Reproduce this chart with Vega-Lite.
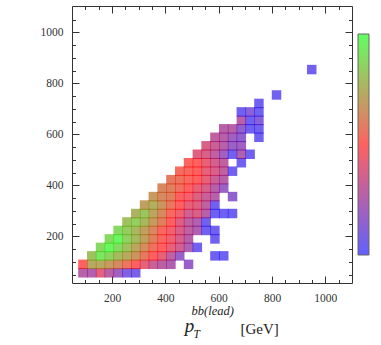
{
  "$schema": "https://vega.github.io/schema/vega-lite/v6.json",
  "width": 280,
  "height": 277,
  "autosize": {"type": "none"},
  "padding": {"left": 72, "top": 6, "right": 29, "bottom": 62},
  "background": "white",
  "config": {
    "view": {"stroke": "#333", "strokeWidth": 1},
    "axis": {
      "labelFont": "Liberation Serif",
      "labelFontSize": 11.5,
      "labelColor": "#333",
      "tickColor": "#333",
      "tickWidth": 1,
      "domain": false,
      "grid": false,
      "titleFont": "Liberation Serif",
      "titleFontWeight": "normal",
      "titleColor": "#222"
    }
  },
  "data": {"values": [
    {"x":91,"y":57,"v":0.27},{"x":124,"y":57,"v":0.25},{"x":157,"y":57,"v":0.41},{"x":190,"y":57,"v":0.28},{"x":223,"y":57,"v":0.2},{"x":256,"y":57,"v":0.1},{"x":289,"y":57,"v":0.08},
    {"x":91,"y":90.2,"v":0.5},{"x":124,"y":90.2,"v":0.73},{"x":157,"y":90.2,"v":0.73},{"x":190,"y":90.2,"v":0.68},{"x":223,"y":90.2,"v":0.63},{"x":256,"y":90.2,"v":0.57},{"x":289,"y":90.2,"v":0.5},{"x":322,"y":90.2,"v":0.42},{"x":355,"y":90.2,"v":0.33},{"x":388,"y":90.2,"v":0.28},{"x":421,"y":90.2,"v":0.25},{"x":487,"y":90.2,"v":0.17},
    {"x":124,"y":123.4,"v":0.8},{"x":157,"y":123.4,"v":0.92},{"x":190,"y":123.4,"v":0.86},{"x":223,"y":123.4,"v":0.78},{"x":256,"y":123.4,"v":0.73},{"x":289,"y":123.4,"v":0.66},{"x":322,"y":123.4,"v":0.58},{"x":355,"y":123.4,"v":0.5},{"x":388,"y":123.4,"v":0.43},{"x":421,"y":123.4,"v":0.3},{"x":454,"y":123.4,"v":0.17},{"x":586,"y":123.4,"v":0.04},{"x":619,"y":123.4,"v":0.04},
    {"x":157,"y":156.6,"v":0.88},{"x":190,"y":156.6,"v":0.97},{"x":223,"y":156.6,"v":0.88},{"x":256,"y":156.6,"v":0.8},{"x":289,"y":156.6,"v":0.72},{"x":322,"y":156.6,"v":0.64},{"x":355,"y":156.6,"v":0.55},{"x":388,"y":156.6,"v":0.5},{"x":421,"y":156.6,"v":0.43},{"x":454,"y":156.6,"v":0.35},{"x":487,"y":156.6,"v":0.25},{"x":520,"y":156.6,"v":0.05},
    {"x":190,"y":189.8,"v":0.88},{"x":223,"y":189.8,"v":0.97},{"x":256,"y":189.8,"v":0.85},{"x":289,"y":189.8,"v":0.78},{"x":322,"y":189.8,"v":0.7},{"x":355,"y":189.8,"v":0.6},{"x":388,"y":189.8,"v":0.52},{"x":421,"y":189.8,"v":0.45},{"x":454,"y":189.8,"v":0.37},{"x":487,"y":189.8,"v":0.27},{"x":586,"y":189.8,"v":0.05},
    {"x":223,"y":223,"v":0.88},{"x":256,"y":223,"v":0.84},{"x":289,"y":223,"v":0.77},{"x":322,"y":223,"v":0.7},{"x":355,"y":223,"v":0.62},{"x":388,"y":223,"v":0.52},{"x":421,"y":223,"v":0.46},{"x":454,"y":223,"v":0.38},{"x":487,"y":223,"v":0.3},{"x":520,"y":223,"v":0.25},{"x":553,"y":223,"v":0.05},{"x":586,"y":223,"v":0.05},
    {"x":256,"y":256.2,"v":0.8},{"x":289,"y":256.2,"v":0.85},{"x":322,"y":256.2,"v":0.77},{"x":355,"y":256.2,"v":0.68},{"x":388,"y":256.2,"v":0.6},{"x":421,"y":256.2,"v":0.5},{"x":454,"y":256.2,"v":0.4},{"x":487,"y":256.2,"v":0.3},{"x":520,"y":256.2,"v":0.25},{"x":553,"y":256.2,"v":0.05},
    {"x":289,"y":289.4,"v":0.76},{"x":322,"y":289.4,"v":0.82},{"x":355,"y":289.4,"v":0.72},{"x":388,"y":289.4,"v":0.63},{"x":421,"y":289.4,"v":0.53},{"x":454,"y":289.4,"v":0.45},{"x":487,"y":289.4,"v":0.35},{"x":520,"y":289.4,"v":0.38},{"x":553,"y":289.4,"v":0.27},{"x":586,"y":289.4,"v":0.04},{"x":619,"y":289.4,"v":0.04},{"x":652,"y":289.4,"v":0.04},
    {"x":322,"y":322.6,"v":0.7},{"x":355,"y":322.6,"v":0.75},{"x":388,"y":322.6,"v":0.66},{"x":421,"y":322.6,"v":0.57},{"x":454,"y":322.6,"v":0.5},{"x":487,"y":322.6,"v":0.42},{"x":520,"y":322.6,"v":0.4},{"x":553,"y":322.6,"v":0.3},{"x":586,"y":322.6,"v":0.05},
    {"x":355,"y":355.8,"v":0.68},{"x":388,"y":355.8,"v":0.63},{"x":421,"y":355.8,"v":0.6},{"x":454,"y":355.8,"v":0.5},{"x":487,"y":355.8,"v":0.46},{"x":520,"y":355.8,"v":0.4},{"x":553,"y":355.8,"v":0.33},{"x":586,"y":355.8,"v":0.27},{"x":652,"y":355.8,"v":0.15},
    {"x":388,"y":389,"v":0.62},{"x":421,"y":389,"v":0.6},{"x":454,"y":389,"v":0.55},{"x":487,"y":389,"v":0.5},{"x":520,"y":389,"v":0.43},{"x":553,"y":389,"v":0.37},{"x":586,"y":389,"v":0.27},{"x":619,"y":389,"v":0.18},
    {"x":421,"y":422.2,"v":0.58},{"x":454,"y":422.2,"v":0.56},{"x":487,"y":422.2,"v":0.53},{"x":520,"y":422.2,"v":0.5},{"x":553,"y":422.2,"v":0.42},{"x":586,"y":422.2,"v":0.33},{"x":619,"y":422.2,"v":0.27},
    {"x":454,"y":455.4,"v":0.54},{"x":487,"y":455.4,"v":0.52},{"x":520,"y":455.4,"v":0.5},{"x":553,"y":455.4,"v":0.42},{"x":586,"y":455.4,"v":0.38},{"x":619,"y":455.4,"v":0.3},{"x":652,"y":455.4,"v":0.05},
    {"x":487,"y":488.6,"v":0.52},{"x":520,"y":488.6,"v":0.5},{"x":553,"y":488.6,"v":0.43},{"x":586,"y":488.6,"v":0.36},{"x":619,"y":488.6,"v":0.3},{"x":685,"y":488.6,"v":0.05},
    {"x":520,"y":521.8,"v":0.4},{"x":553,"y":521.8,"v":0.38},{"x":586,"y":521.8,"v":0.3},{"x":619,"y":521.8,"v":0.2},{"x":652,"y":521.8,"v":0.05},{"x":685,"y":521.8,"v":0.25},{"x":718,"y":521.8,"v":0.05},
    {"x":553,"y":555,"v":0.38},{"x":586,"y":555,"v":0.33},{"x":619,"y":555,"v":0.27},{"x":652,"y":555,"v":0.18},{"x":685,"y":555,"v":0.2},
    {"x":586,"y":588.2,"v":0.3},{"x":619,"y":588.2,"v":0.27},{"x":652,"y":588.2,"v":0.2},{"x":685,"y":588.2,"v":0.15},{"x":751,"y":588.2,"v":0.05},
    {"x":619,"y":621.4,"v":0.27},{"x":652,"y":621.4,"v":0.27},{"x":685,"y":621.4,"v":0.15},{"x":718,"y":621.4,"v":0.05},{"x":751,"y":621.4,"v":0.05},
    {"x":685,"y":654.6,"v":0.27},{"x":718,"y":654.6,"v":0.05},{"x":751,"y":654.6,"v":0.12},
    {"x":685,"y":687.8,"v":0.05},{"x":718,"y":687.8,"v":0.13},{"x":751,"y":687.8,"v":0.05},
    {"x":751,"y":721,"v":0.05},
    {"x":817,"y":754.2,"v":0.05},
    {"x":949,"y":853.8,"v":0.05}
  ]},
  "layer": [
    {
      "mark": {"type": "square", "size": 90, "filled": true, "opacity": 1, "strokeWidth": 0},
      "encoding": {
        "x": {"field": "x", "type": "quantitative",
          "scale": {"domain": [50, 1100], "nice": false, "zero": false},
          "axis": {"orient": "bottom",
            "values": [100,150,200,250,300,350,400,450,500,550,600,650,700,750,800,850,900,950,1000,1050],
            "format": "d",
            "labelExpr": "datum.value % 200 === 0 ? datum.label : ''",
            "tickSize": {"condition": {"test": "datum.value % 200 === 0", "value": -7}, "value": -3.5},
            "labelPadding": 16,
            "title": "p",
            "titleFontStyle": "italic",
            "titleFontSize": 19,
            "titleX": 117, "titleY": 48,
            "titleAlign": "center", "titleBaseline": "alphabetic"}},
        "y": {"field": "y", "type": "quantitative",
          "scale": {"domain": [17, 1103], "nice": false, "zero": false},
          "axis": {"orient": "left",
            "values": [50,100,150,200,250,300,350,400,450,500,550,600,650,700,750,800,850,900,950,1000,1050],
            "format": "d",
            "labelExpr": "datum.value % 200 === 0 ? datum.label : ''",
            "tickSize": {"condition": {"test": "datum.value % 200 === 0", "value": -7}, "value": -3.5},
            "labelPadding": 16,
            "title": "T",
            "titleFontStyle": "italic",
            "titleFontSize": 11.5,
            "titleAngle": 0,
            "titleX": 121, "titleY": 331,
            "titleAlign": "left", "titleBaseline": "alphabetic"}},
        "color": {"field": "v", "type": "quantitative",
          "scale": {"domain": [0, 0.5, 1], "range": ["rgba(0,0,255,0.62)", "rgba(255,0,0,0.62)", "rgba(0,255,0,0.62)"], "interpolate": "rgb"},
          "legend": {"orient": "none", "legendX": 286, "legendY": 28, "direction": "vertical",
            "gradientLength": 221, "gradientThickness": 11, "title": null,
            "labelExpr": "''", "labelFontSize": 1, "gradientStrokeColor": "#666", "gradientStrokeWidth": 1}}
      }
    },
    {
      "mark": {"type": "square", "size": 90, "opacity": 0},
      "encoding": {
        "x": {"field": "x", "type": "quantitative",
          "axis": {"orient": "top",
            "values": [100,150,200,250,300,350,400,450,500,550,600,650,700,750,800,850,900,950,1000,1050],
            "labels": false,
            "tickSize": {"condition": {"test": "datum.value % 200 === 0", "value": -7}, "value": -3.5},
            "title": "bb(lead)",
            "titleFontStyle": "italic",
            "titleFontSize": 12.5,
            "titleX": 119, "titleY": 308,
            "titleAlign": "left", "titleBaseline": "alphabetic"}},
        "y": {"field": "y", "type": "quantitative",
          "axis": {"orient": "right",
            "values": [50,100,150,200,250,300,350,400,450,500,550,600,650,700,750,800,850,900,950,1000,1050],
            "labels": false,
            "tickSize": {"condition": {"test": "datum.value % 200 === 0", "value": -7}, "value": -3.5},
            "title": "[GeV]",
            "titleFontSize": 15,
            "titleAngle": 0,
            "titleX": -112, "titleY": 327,
            "titleAlign": "left", "titleBaseline": "alphabetic"}}
      }
    }
  ],
  "resolve": {"axis": {"x": "independent", "y": "independent"}}
}
